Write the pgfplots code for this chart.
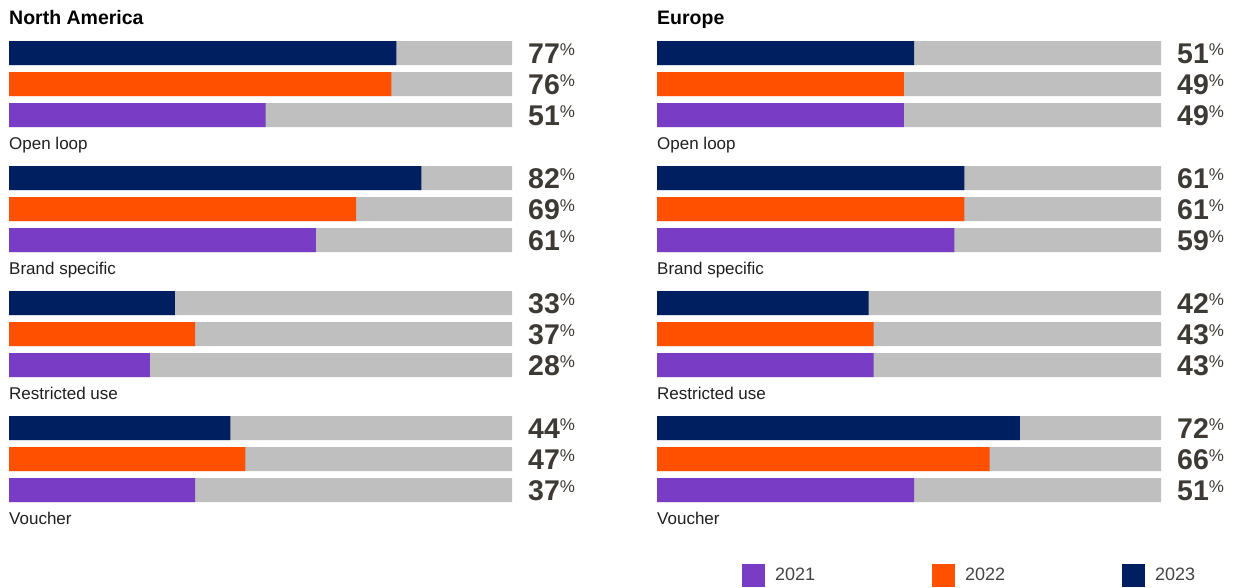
\documentclass[border=0pt]{standalone}
\usepackage{pgfplots}
\pgfplotsset{compat=1.18}
\usepackage{pgfplotstable}
\usepackage{fontspec}
\setmainfont{Liberation Sans}
\definecolor{navy}{HTML}{001F60}
\definecolor{orng}{HTML}{FF5000}
\definecolor{purp}{HTML}{783CC5}
\definecolor{bargray}{HTML}{BFBFBF}
\definecolor{valtxt}{HTML}{3D3935}
\definecolor{legtxt}{HTML}{444444}

% y positions (pixel rows, negative), values: a=2023, b=2022, c=2021
\pgfplotstableread{
ya yb yc va vb vc
-53 -84 -115 77 76 51
-178 -209 -240 82 69 61
-303 -334 -365 33 37 28
-428 -459 -490 44 47 37
}\na
\pgfplotstableread{
ya yb yc va vb vc
-53 -84 -115 51 49 49
-178 -209 -240 61 61 59
-303 -334 -365 42 43 43
-428 -459 -490 72 66 51
}\eu

\pgfplotsset{
 panel/.style={scale only axis, width=503bp, height=461bp, xmin=0, xmax=100,
   ymin=-502, ymax=-41, axis lines=none, clip=false, enlargelimits=false,
   anchor=north west,
   title style={at={(0,1)}, anchor=base west, inner sep=0pt, yshift=11bp,
     font=\fontsize{19.5bp}{22bp}\selectfont\bfseries}},
 bg/.style={xbar, bar width=24bp, bar shift=0pt, fill=bargray, draw=none, forget plot,
   point meta=explicit symbolic,
   nodes near coords={\textbf{\pgfplotspointmeta}\raisebox{8.3bp}{\fontsize{17bp}{17bp}\selectfont\%}},
   nodes near coords style={anchor=base west, inner sep=0pt, xshift=16bp, yshift=-10.5bp, text=valtxt,
     font=\fontsize{28.5bp}{30bp}\selectfont}},
 fg/.style={xbar, bar width=24bp, bar shift=0pt, fill=#1, draw=none, forget plot},
}
\tikzset{cat/.style={anchor=base west, inner sep=0pt, font=\fontsize{17bp}{20bp}\selectfont, text=black!88}}

\begin{document}
\begin{tikzpicture}
\useasboundingbox (0,0) rectangle (1239bp,-588bp);
\begin{axis}[panel, at={(9bp,-41bp)}, title={North America}]
\addplot[bg] table[x expr=100, y=ya, meta=va]{\na};
\addplot[bg] table[x expr=100, y=yb, meta=vb]{\na};
\addplot[bg] table[x expr=100, y=yc, meta=vc]{\na};
\addplot[fg=navy] table[x=va, y=ya]{\na};
\addplot[fg=orng] table[x=vb, y=yb]{\na};
\addplot[fg=purp] table[x=vc, y=yc]{\na};
\node[cat] at (axis cs:0,-149) {Open loop};
\node[cat] at (axis cs:0,-274) {Brand specific};
\node[cat] at (axis cs:0,-399) {Restricted use};
\node[cat] at (axis cs:0,-524) {Voucher};
\end{axis}
\begin{axis}[panel, at={(657bp,-41bp)}, width=504bp, title={Europe},
  legend style={at={(0.1687,-0.1584)}, anchor=west, draw=none, fill=none,
    inner sep=0pt, outer sep=0pt, legend columns=3,
    font=\fontsize{18bp}{20bp}\selectfont, text=legtxt,
    nodes={inner sep=0pt},
    /tikz/every odd column/.append style={column sep=10bp},
    /tikz/every even column/.append style={column sep=117bp}},
  legend cell align=left,
  legend image code/.code={\fill[#1] (0bp,-11.5bp) rectangle (23bp,11.5bp);}]
\addplot[bg] table[x expr=100, y=ya, meta=va]{\eu};
\addplot[bg] table[x expr=100, y=yb, meta=vb]{\eu};
\addplot[bg] table[x expr=100, y=yc, meta=vc]{\eu};
\addplot[fg=navy] table[x=va, y=ya]{\eu};
\addplot[fg=orng] table[x=vb, y=yb]{\eu};
\addplot[fg=purp] table[x=vc, y=yc]{\eu};
\node[cat] at (axis cs:0,-149) {Open loop};
\node[cat] at (axis cs:0,-274) {Brand specific};
\node[cat] at (axis cs:0,-399) {Restricted use};
\node[cat] at (axis cs:0,-524) {Voucher};
\addlegendimage{fill=purp, draw=none}
\addlegendentry{2021}
\addlegendimage{fill=orng, draw=none}
\addlegendentry{2022}
\addlegendimage{fill=navy, draw=none}
\addlegendentry{2023}
\end{axis}
\end{tikzpicture}
\end{document}
